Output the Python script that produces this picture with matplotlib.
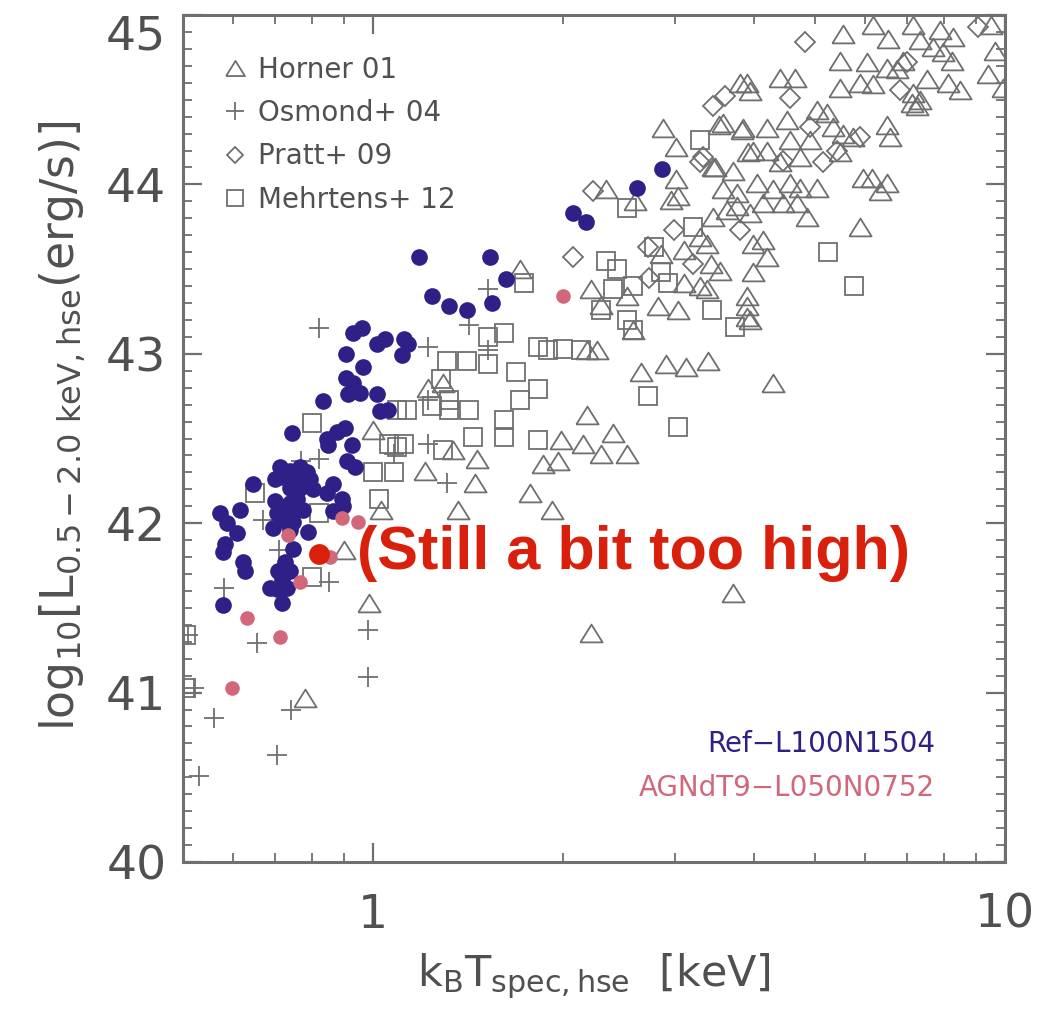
import matplotlib
matplotlib.use('Agg')
import matplotlib.pyplot as plt
from matplotlib.ticker import FixedLocator, NullFormatter, LogLocator, MultipleLocator

plt.rcParams['font.family'] = ['DejaVu Sans']
plt.rcParams['mathtext.fontset'] = 'dejavusans'

# ---------------- data (kT [keV], log10 L) ----------------
horner = [
    (5.55, 44.89), (6.18, 44.94), (6.53, 44.86), (7.14, 44.94), (7.89, 44.91), (8.28, 44.87), (9.50, 44.94),
    (9.64, 44.79), (9.40, 44.65), (9.94, 44.57), (7.34, 44.85), (7.69, 44.81), (7.97, 44.78), (8.25, 44.73),
    (8.49, 44.56), (8.13, 44.60), (7.53, 44.62), (7.14, 44.54), (7.12, 44.48), (7.25, 44.46), (7.34, 44.50),
    (5.48, 44.73), (6.05, 44.72), (6.51, 44.69), (6.75, 44.68), (6.90, 44.73), (4.41, 44.63), (4.65, 44.63),
    (3.90, 44.60), (5.48, 44.57), (5.90, 44.60), (6.18, 44.59), (3.58, 44.36), (3.85, 44.33), (4.20, 44.33),
    (4.52, 44.38), (6.51, 44.35), (6.58, 44.28), (5.35, 44.34), (5.55, 44.30), (5.75, 44.28), (5.23, 44.42),
    (5.04, 44.44), (3.99, 44.20), (4.20, 44.20), (4.57, 44.26), (4.91, 44.26), (3.45, 44.10), (3.71, 44.08),
    (4.41, 44.13), (4.74, 44.16), (5.48, 44.19), (5.96, 44.04), (6.16, 44.04), (6.51, 44.01), (6.34, 43.96),
    (3.58, 43.97), (3.77, 43.95), (4.05, 44.01), (4.30, 43.97), (4.57, 44.01), (4.74, 43.98), (5.04, 43.98),
    (3.45, 43.81), (3.63, 43.85), (3.77, 43.87), (3.95, 43.83), (4.14, 43.89), (4.46, 43.89), (4.69, 43.89),
    (4.86, 43.81), (5.90, 43.75), (3.38, 43.65), (3.99, 43.65), (4.14, 43.67), (4.20, 43.57), (3.42, 43.53),
    (3.54, 43.49), (3.99, 43.48), (3.90, 43.34), (3.90, 43.22), (3.38, 43.38),
    (2.88, 44.33), (3.01, 44.22), (3.52, 44.35), (3.83, 44.32), (3.81, 44.60), (3.95, 44.55), (3.01, 44.03),
    (2.96, 43.91), (3.48, 44.10), (3.92, 44.19), (2.34, 43.97), (2.60, 43.90),
    (1.71, 43.50), (2.21, 43.38), (2.29, 43.29), (2.52, 43.34), (2.82, 43.28), (3.04, 43.26), (3.04, 43.93),
    (3.29, 43.69), (3.10, 43.61), (2.58, 43.14), (2.85, 43.59), (3.10, 43.42), (3.29, 43.40),
    (2.18, 43.02), (2.26, 43.02), (2.65, 42.89), (2.91, 42.94), (3.13, 42.92), (3.39, 42.96), (4.30, 42.83),
    (2.18, 42.64), (2.40, 42.53), (1.98, 42.49), (2.15, 42.47), (2.29, 42.41), (2.52, 42.41), (1.86, 42.35),
    (1.96, 42.37), (1.46, 42.38), (1.21, 42.31), (1.45, 42.24), (1.77, 42.18), (1.92, 42.08), (1.36, 42.08),
    (3.71, 41.59), (2.21, 41.35), (1.22, 42.80), (1.29, 42.83), (1.34, 42.43), (3.90, 43.28), (3.95, 43.20),
    (1.00, 42.55), (1.03, 42.08), (0.985, 41.53), (0.78, 40.97), (0.90, 41.84),
]

osmond = [
    (0.821, 43.15), (1.22, 43.04), (1.42, 43.17), (1.52, 43.38), (1.52, 43.02), (1.22, 42.47), (1.22, 42.73),
    (1.31, 42.24), (1.08, 42.41), (0.77, 42.37), (0.82, 42.38), (0.67, 42.02), (0.58, 41.62), (0.71, 41.84),
    (0.85, 41.65), (0.51, 41.34), (0.655, 41.29), (0.98, 41.37), (0.98, 41.09), (0.52, 41.03), (0.74, 40.90),
    (0.56, 40.85), (0.705, 40.63), (0.53, 40.51),
]

pratt = [
    (4.82, 44.84), (9.07, 44.93), (3.45, 44.46), (3.61, 44.52), (4.57, 44.51), (4.46, 44.14), (5.16, 44.13),
    (5.43, 44.20), (5.90, 44.28), (6.99, 44.72), (6.82, 44.56), (3.33, 44.16), (3.81, 43.73), (4.91, 44.34),
    (3.29, 44.13), (2.23, 43.96), (2.07, 43.57), (2.72, 43.63), (2.99, 43.73), (2.73, 43.45), (3.21, 43.53),
]

mehrtens = [
    (5.25, 43.60), (5.77, 43.40), (3.44, 43.26), (3.74, 43.16), (3.29, 44.26),
    (2.52, 43.86), (1.73, 43.42), (2.34, 43.55), (2.43, 43.50), (2.78, 43.63), (2.85, 43.48), (2.40, 43.38),
    (2.58, 43.40), (2.52, 43.20), (1.61, 43.12), (1.52, 43.10), (2.93, 43.42), (3.21, 43.75),
    (1.31, 42.96), (1.41, 42.96), (1.52, 42.94), (1.82, 43.04), (1.89, 43.02), (2.00, 43.03), (2.13, 43.02),
    (1.68, 42.89), (1.82, 42.79), (1.71, 42.73), (1.13, 42.67), (1.32, 42.67), (1.42, 42.67), (1.32, 42.73),
    (1.61, 42.61), (1.61, 42.51), (1.82, 42.49), (1.44, 42.51),
    (2.58, 43.14), (2.72, 42.75), (3.04, 42.57), (1.12, 42.47), (1.29, 42.43), (1.24, 42.69), (1.28, 42.85),
    (2.29, 43.26), (0.80, 42.59), (1.09, 42.67), (1.09, 42.45), (1.00, 42.30), (1.02, 42.14), (0.82, 42.06),
    (1.06, 42.47), (1.08, 42.30), (0.65, 42.18), (0.80, 41.68), (0.505, 41.34), (0.505, 41.03),
]

ref_l100 = [
    (2.62, 43.98), (2.86, 44.09), (2.07, 43.83), (2.17, 43.78), (1.18, 43.57), (1.53, 43.57), (1.62, 43.44),
    (1.24, 43.34), (1.32, 43.28), (1.41, 43.26), (1.54, 43.30), (1.12, 43.09), (0.930, 43.12), (0.961, 43.15),
    (1.015, 43.06), (1.045, 43.09), (1.136, 43.06), (1.111, 42.99), (0.906, 43.00), (0.906, 42.86),
    (0.964, 42.92), (0.930, 42.83), (0.913, 42.76), (0.954, 42.77), (1.015, 42.76), (1.026, 42.66),
    (1.056, 42.67), (0.834, 42.72), (0.744, 42.53), (0.846, 42.50), (0.877, 42.54), (0.903, 42.56),
    (0.849, 42.46), (0.927, 42.46), (0.910, 42.37), (0.936, 42.33), (0.646, 42.23), (0.712, 42.33),
    (0.739, 42.31), (0.766, 42.33), (0.786, 42.30), (0.700, 42.26), (0.720, 42.27), (0.758, 42.26),
    (0.795, 42.26), (0.804, 42.20), (0.739, 42.21), (0.766, 42.21), (0.864, 42.23), (0.846, 42.18),
    (0.893, 42.14), (0.864, 42.07), (0.700, 42.13), (0.712, 42.10), (0.739, 42.12), (0.758, 42.14),
    (0.705, 42.06), (0.739, 42.05), (0.775, 42.08), (0.720, 42.02), (0.747, 42.01), (0.695, 41.97),
    (0.739, 41.96), (0.573, 42.06), (0.616, 42.08), (0.588, 42.00), (0.609, 41.94), (0.583, 41.88),
    (0.579, 41.83), (0.623, 41.77), (0.627, 41.72), (0.789, 41.95), (0.747, 41.85), (0.726, 41.77),
    (0.707, 41.72), (0.739, 41.72), (0.718, 41.67), (0.687, 41.62), (0.705, 41.61), (0.731, 41.62),
    (0.718, 41.53), (0.579, 41.52), (0.897, 42.10),
]

agn_l050 = [
    (2.00, 43.34), (0.734, 41.93), (0.893, 42.03), (0.947, 42.01), (0.855, 41.80), (0.766, 41.65),
    (0.632, 41.44), (0.712, 41.33), (0.598, 41.03),
]

note_point = (0.821, 41.82)
note_text = '(Still a bit too high)'

legend_labels = ['Horner 01', 'Osmond+ 04', 'Pratt+ 09', 'Mehrtens+ 12']
sim_labels = ['Ref\u2212L100N1504', 'AGNdT9\u2212L050N0752']

x_ticks = [1, 10]
x_ticklabels = ['1', '10']
y_ticks = [40, 41, 42, 43, 44, 45]
y_ticklabels = ['40', '41', '42', '43', '44', '45']

# ---------------- style ----------------
GRAY = '#6f6f6f'
TXT = '#505050'
BLUE = '#2f2088'
PINK = '#d2677a'
RED = '#d8200c'

tri = [(-1, -0.8), (1, -0.8), (0, 0.8), (-1, -0.8)]

fig = plt.figure(figsize=(10.54, 10.16), dpi=100)
ax = fig.add_axes([183 / 1054, 1 - 862 / 1016, 822 / 1054, 847 / 1016])
ax.set_xscale('log')
ax.set_xlim(0.5, 10)
ax.set_ylim(40, 45)


def split(pairs):
    return [p[0] for p in pairs], [p[1] for p in pairs]


mk = dict(ls='none', mfc='none', mec=GRAY, mew=1.3)
x, y = split(horner)
h1, = ax.plot(x, y, marker=tri, ms=16, **mk)
x, y = split(osmond)
h2, = ax.plot(x, y, marker='+', ms=15, **mk)
x, y = split(pratt)
h3, = ax.plot(x, y, marker='D', ms=10, **mk)
x, y = split(mehrtens)
h4, = ax.plot(x, y, marker='s', ms=13, **mk)

x, y = split(ref_l100)
ax.plot(x, y, 'o', ms=12, color=BLUE, mec='none')
x, y = split(agn_l050)
ax.plot(x, y, 'o', ms=10.5, color=PINK, mec='none')

ax.plot([note_point[0]], [note_point[1]], 'o', ms=15, color=RED, mec='none')
ax.text(0.943, note_point[1], note_text, fontsize=44, fontweight='bold', color=RED,
        va='center', ha='left', family=['Liberation Sans', 'DejaVu Sans'])

leg = ax.legend([h1, h2, h3, h4], legend_labels, loc='upper left', bbox_to_anchor=(0.035, 0.965),
                frameon=False, fontsize=20, labelcolor=TXT, handlelength=0.9, handletextpad=0.35,
                labelspacing=0.55, markerscale=0.85, borderaxespad=0)

ax.text(0.915, 0.139, sim_labels[0], transform=ax.transAxes, ha='right', va='center',
        color=BLUE, fontsize=20)
ax.text(0.915, 0.087, sim_labels[1], transform=ax.transAxes, ha='right', va='center',
        color=PINK, fontsize=20)

# axes / ticks
ax.xaxis.set_major_locator(FixedLocator(x_ticks))
ax.set_xticklabels(x_ticklabels)
ax.xaxis.set_minor_locator(LogLocator(base=10, subs=range(2, 10)))
ax.xaxis.set_minor_formatter(NullFormatter())
ax.yaxis.set_major_locator(FixedLocator(y_ticks))
ax.set_yticklabels(y_ticklabels)
ax.yaxis.set_minor_locator(MultipleLocator(0.1))

ax.tick_params(which='both', direction='in', top=True, right=True, color=GRAY, labelcolor=TXT)
ax.tick_params(which='major', length=14, width=1.6, labelsize=34)
ax.tick_params(which='minor', length=6.5, width=1.3)
ax.tick_params(axis='y', which='major', pad=12)
ax.tick_params(axis='x', which='major', pad=22)
for s in ax.spines.values():
    s.set_color(GRAY)
    s.set_linewidth(2.2)

ax.yaxis.get_major_ticks()[-1].label1.set_va('top')

ax.set_xlabel(r'$\mathrm{k_B T_{spec,hse}}\ \ [\mathrm{keV}]$', fontsize=31, color=TXT)
ax.xaxis.set_label_coords(0.5, -0.106)
ax.set_ylabel(r'$\mathrm{log_{10}}\left[\mathrm{L_{0.5-2.0\ keV,hse}(erg/s)}\right]$', fontsize=33, color=TXT)
ax.yaxis.set_label_coords(-0.115, 0.515)

fig.savefig('out.png', dpi=100)
